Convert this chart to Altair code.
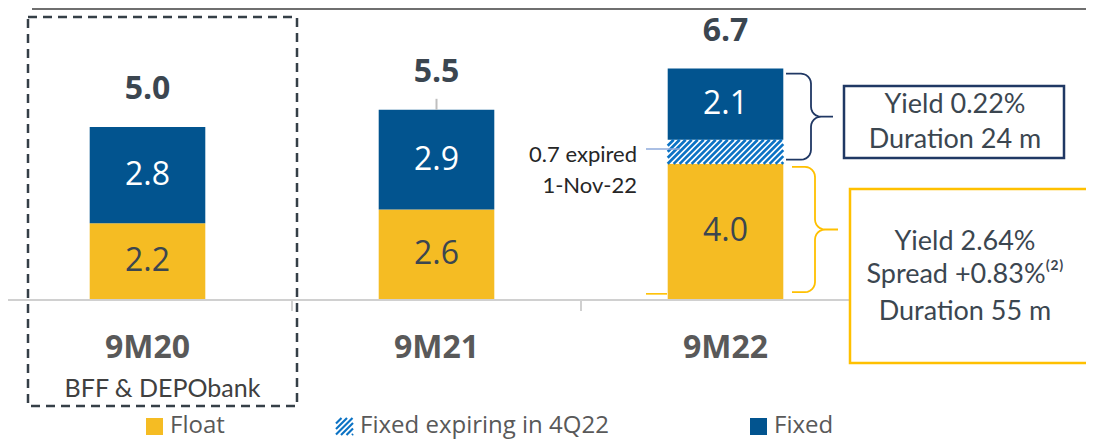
import math
import altair as alt
import pandas as pd

# ---------------- data ----------------
categories = ["9M20", "9M21", "9M22"]
float_vals = [2.2, 2.6, 3.93]
expiring_vals = [0.0, 0.0, 0.70]
fixed_vals = [2.8, 2.9, 2.07]
float_labels = ["2.2", "2.6", "4.0"]
fixed_labels = ["2.8", "2.9", "2.1"]
total_labels = ["5.0", "5.5", "6.7"]
series = ["Float", "Fixed expiring in 4Q22", "Fixed"]
subtitle = "BFF & DEPObank"
note_text = "0.7 expired\n1-Nov-22"
fixed_box_lines = ["Yield 0.22%", "Duration 24 m"]
float_box_lines = ["Yield 2.64%", "Spread +0.83%⁽²⁾", "Duration 55 m"]

# ---------------- layout / style ----------------
W, H, PAD_B = 1078, 291, 140
K = 34.4                      # px per unit
YMAX = H / K
BAND_RANGE = [-5, 862]
BAND = (BAND_RANGE[1] - BAND_RANGE[0]) / len(categories)
BAR_W = BAND * 0.4
CENTER = BAND / 2             # offset channels are measured from the band start

FLOAT_C, HATCH_C, FIXED_C = "#F5BC23", "#0B72C4", "#02548F"
NAVY, GOLD = "#203864", "#FFC000"
TEXT_C = "#3B4650"
AXIS_C = "#D0D0D0"
series_colors = [FLOAT_C, "#FFFFFF", FIXED_C]

xs = alt.Scale(domain=categories, range=BAND_RANGE, paddingInner=0, paddingOuter=0)
ys = alt.Scale(domain=[0, YMAX], nice=False, zero=False)


def xcat():
    return alt.X("cat:N", scale=xs, sort=categories, title=None, axis=None)


def yq(field):
    return alt.Y(field, scale=ys, axis=None, title=None)


def line_layer(df, color, width=1.8, **kw):
    enc = dict(x=xcat(), xOffset=alt.XOffset("dx:Q", scale=None), y=yq("y:Q"), order="o:Q")
    if "detail" in df.columns:
        enc["detail"] = "detail:N"
    return alt.Chart(df).mark_line(color=color, strokeWidth=width, **kw).encode(**enc)


# ---------------- stacked bars ----------------
rows = []
totals = []
for i, c in enumerate(categories):
    base = 0.0
    for s, v in zip(series, [float_vals[i], expiring_vals[i], fixed_vals[i]]):
        if v > 0:
            rows.append(dict(cat=c, series=s, y0=base, y1=base + v))
        base += v
    totals.append(base)
bars_df = pd.DataFrame(rows)

bars = alt.Chart(bars_df).mark_bar(width=alt.RelativeBandSize(0.4)).encode(
    x=xcat(),
    y=yq("y0:Q"),
    y2="y1:Q",
    color=alt.Color("series:N", scale=alt.Scale(domain=series, range=series_colors), legend=None),
)

# category axis drawn by hand: baseline, band-edge ticks, labels
baseline = alt.Chart(pd.DataFrame({"a": [0]})).mark_rule(color=AXIS_C, strokeWidth=2).encode(
    x=alt.value(0), x2=alt.value(BAND_RANGE[1]), y=alt.value(H + 1)
)
edge_x = [BAND_RANGE[0] + j * BAND for j in range(1, len(categories) + 1)]
ticks = alt.Chart(pd.DataFrame(dict(tx=edge_x))).mark_rule(color=AXIS_C, strokeWidth=2).encode(
    x=alt.X("tx:Q", scale=None, axis=None), y=alt.value(H + 1), y2=alt.value(H + 12)
)

cat_labels = alt.Chart(pd.DataFrame(dict(cat=categories))).mark_text(
    font="Open Sans", fontWeight="bold", fontSize=32, color="#595959", baseline="middle"
).encode(x=xcat(), y=alt.value(340), text="cat:N")

# hatch stripes inside the expiring segment
def stripes(x_of, y_of, w, h, period=6.0):
    out = []
    c = -h
    sid = 0
    while c < w:
        u0, u1 = max(0.0, c), min(w, h + c)
        if u1 > u0:
            out.append((sid, 0, x_of(u0), y_of(u0 - c)))
            out.append((sid, 1, x_of(u1), y_of(u1 - c)))
            sid += 1
        c += period
    return out

hrows = []
for i, c in enumerate(categories):
    if expiring_vals[i] > 0:
        lo = float_vals[i]
        for sid, o, dx, yv in stripes(lambda u: CENTER + u - BAR_W / 2, lambda v: lo + v / K,
                                      BAR_W, expiring_vals[i] * K):
            hrows.append(dict(cat=c, detail=sid, o=o, dx=dx, y=yv))
hatch = line_layer(pd.DataFrame(hrows), HATCH_C, 2.6, strokeCap="butt")

# segment labels
float_df = pd.DataFrame(dict(cat=categories, mid=[v / 2 for v in float_vals], t=float_labels))
fixed_df = pd.DataFrame(dict(
    cat=categories,
    mid=[f + e + x / 2 for f, e, x in zip(float_vals, expiring_vals, fixed_vals)],
    t=fixed_labels,
))
float_text = alt.Chart(float_df).mark_text(
    font="Open Sans", fontSize=32, baseline="middle", align="center", color=TEXT_C
).encode(x=xcat(), y=yq("mid:Q"), text="t:N")
fixed_text = alt.Chart(fixed_df).mark_text(
    font="Open Sans", fontSize=32, baseline="middle", align="center", color="#FFFFFF"
).encode(x=xcat(), y=yq("mid:Q"), text="t:N")

tot_df = pd.DataFrame(dict(cat=categories, total=totals, t=total_labels))
tot_text = alt.Chart(tot_df).mark_text(
    font="Open Sans", fontWeight="bold", fontSize=32, dy=-38, color=TEXT_C, baseline="middle"
).encode(x=xcat(), y=yq("total:Q"), text="t:N")

# small leftover tick above 9M21
tick_df = pd.DataFrame(dict(cat=[categories[1]] * 2, o=[0, 1], dx=[CENTER] * 2,
                            y=[totals[1], totals[1] + 11 / K]))
tick = line_layer(tick_df, "#BFBFBF", 2)

# ---------------- braces ----------------
def brace(cat, top, bot, e, s, t, r=10, n=6):
    T, B = top * K, bot * K
    M = (T + B) / 2
    pts = [(e, T)]
    for j in range(n + 1):
        th = math.pi / 2 - (math.pi / 2) * j / n
        pts.append((s - r + r * math.cos(th), T - r + r * math.sin(th)))
    for j in range(n + 1):
        th = math.pi + (math.pi / 2) * j / n
        pts.append((s + r + r * math.cos(th), M + r + r * math.sin(th)))
    pts.append((t, M))
    for j in range(n + 1):
        th = math.pi / 2 + (math.pi / 2) * j / n
        pts.append((s + r + r * math.cos(th), M - r + r * math.sin(th)))
    for j in range(n + 1):
        th = -(math.pi / 2) * j / n
        pts.append((s - r + r * math.cos(th), B + r + r * math.sin(th)))
    pts.append((e, B))
    return pd.DataFrame([dict(cat=cat, o=k, dx=CENTER + p[0], y=p[1] / K) for k, p in enumerate(pts)])

i3 = 2
navy_df = brace(categories[i3], totals[i3] - 0.15, float_vals[i3] + 0.12, 60.5, 85.5, 107.5)
gold_df = brace(categories[i3], float_vals[i3] - 0.09, 0.2, 66.5, 89.5, 112.5)
navy_brace = line_layer(navy_df, NAVY)
gold_brace = line_layer(gold_df, GOLD)

hatch_mid = float_vals[i3] + expiring_vals[i3] / 2
conn_df = pd.DataFrame(dict(cat=[categories[i3]] * 2, o=[0, 1],
                            dx=[CENTER - 79.5, CENTER - 45.5], y=[hatch_mid + 0.08] * 2))
connector = line_layer(conn_df, "#8EAADB", 1.6)
stub_df = pd.DataFrame(dict(cat=[categories[i3]] * 2, o=[0, 1],
                            dx=[CENTER - 79.5, CENTER - 58.5], y=[0.15] * 2))
stub = line_layer(stub_df, GOLD, 1.6)

note = alt.Chart(pd.DataFrame(dict(cat=[categories[i3]], y=[hatch_mid], t=[note_text]))).mark_text(
    font="Lato", fontSize=22, align="right", baseline="alphabetic", lineBreak="\n",
    lineHeight=31, xOffset=-88.5, dy=10, color="#262626",
).encode(x=xcat(), y=yq("y:Q"), text="t:N")

sub = alt.Chart(pd.DataFrame(dict(cat=[categories[0]], t=[subtitle]))).mark_text(
    font="Lato", fontSize=25, color="#404040", xOffset=15, baseline="middle"
).encode(x=xcat(), y=alt.value(381), text="t:N")

# ---------------- decorations ----------------
dashed = alt.Chart(pd.DataFrame({"a": [0]})).mark_rect(
    fill="transparent", stroke="#353F47", strokeWidth=2.5, strokeDash=[9, 6]
).encode(x=alt.value(20), x2=alt.value(289), y=alt.value(9), y2=alt.value(398))

topline = alt.Chart(pd.DataFrame({"a": [0]})).mark_rule(color="#6F6F6F", strokeWidth=2).encode(
    x=alt.value(24), x2=alt.value(W), y=alt.value(1)
)

box1 = alt.Chart(pd.DataFrame({"a": [0]})).mark_rect(
    fill="white", stroke=NAVY, strokeWidth=2.5
).encode(x=alt.value(836), x2=alt.value(1056), y=alt.value(78), y2=alt.value(150))
box2 = alt.Chart(pd.DataFrame({"a": [0]})).mark_rect(
    fill="white", stroke=GOLD, strokeWidth=2.5
).encode(x=alt.value(842), x2=alt.value(W + 10), y=alt.value(181), y2=alt.value(355))

box1_text = alt.Chart(pd.DataFrame(dict(t=fixed_box_lines, yy=[97, 132]))).mark_text(
    font="Lato", fontSize=27, color=TEXT_C, baseline="middle", align="center"
).encode(x=alt.value(947), y=alt.Y("yy:Q", scale=None), text="t:N")
box2_text = alt.Chart(pd.DataFrame(dict(t=float_box_lines, yy=[234, 267, 304]))).mark_text(
    font="Lato", fontSize=27, color=TEXT_C, baseline="middle", align="center"
).encode(x=alt.value(957), y=alt.Y("yy:Q", scale=None), text="t:N")

# ---------------- legend ----------------
LEG_X = [138, 328, 742]
LEG_Y0, LEG_Y1 = 410, 427
leg_df = pd.DataFrame(dict(series=series, x0=LEG_X, x1=[x + 17 for x in LEG_X], tx=[x + 24 for x in LEG_X]))
leg_sq = alt.Chart(leg_df).mark_rect().encode(
    x=alt.X("x0:Q", scale=None, axis=None), x2="x1:Q",
    y=alt.value(LEG_Y0), y2=alt.value(LEG_Y1),
    color=alt.Color("series:N", scale=alt.Scale(domain=series, range=series_colors), legend=None),
)
leg_txt = alt.Chart(leg_df).mark_text(
    font="Open Sans", fontSize=24, color="#595959", align="left", baseline="middle"
).encode(x=alt.X("tx:Q", scale=None, axis=None), y=alt.value((LEG_Y0 + LEG_Y1) / 2 - 1), text="series:N")

lrows = []
hx0 = LEG_X[1]
for sid, o, px, py in stripes(lambda u: hx0 + u, lambda v: LEG_Y1 - v, 17, LEG_Y1 - LEG_Y0, 5.5):
    lrows.append(dict(stripe=sid, o=o, px=px, py=py))
leg_hatch = alt.Chart(pd.DataFrame(lrows)).mark_line(color=HATCH_C, strokeWidth=2.2, strokeCap="butt").encode(
    x=alt.X("px:Q", scale=None, axis=None), y=alt.Y("py:Q", scale=None, axis=None),
    detail="stripe:N", order="o:Q",
)

chart = alt.layer(
    topline, baseline, ticks, bars, hatch, tick, float_text, fixed_text,
    tot_text, stub, connector, note, cat_labels, sub,
    navy_brace, gold_brace, box1, box2, box1_text, box2_text, dashed,
    leg_sq, leg_hatch, leg_txt,
).properties(
    width=W, height=H,
    padding={"left": 0, "top": 0, "right": 0, "bottom": PAD_B},
    autosize=alt.AutoSizeParams(type="none"),
    background="white",
).configure_view(strokeWidth=0)

chart.save("out.html", embed_options={"renderer": "svg", "actions": False})
